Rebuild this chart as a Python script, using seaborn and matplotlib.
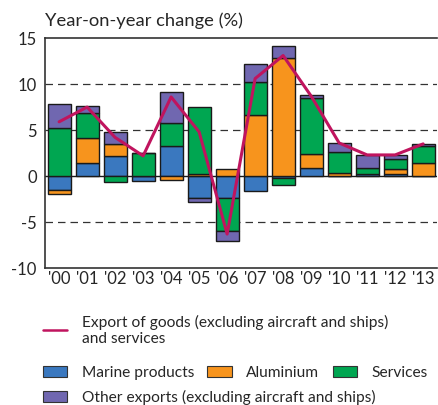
import numpy as np
import matplotlib
matplotlib.use("Agg")
import matplotlib.pyplot as plt
from matplotlib.lines import Line2D
from matplotlib.patches import Patch
import seaborn as sns

years = ["'00", "'01", "'02", "'03", "'04", "'05", "'06",
         "'07", "'08", "'09", "'10", "'11", "'12", "'13"]
marine = [-1.5, 1.4, 2.2, -0.5, 3.3, -2.35, -2.35, -1.6, -0.2, 0.9, 0.0, 0.2, 0.2, 0.0]
aluminium = [-0.4, 2.7, 1.3, 0.0, -0.4, 0.2, 0.8, 6.6, 12.85, 1.5, 0.3, 0.0, 0.6, 1.45]
services = [5.2, 2.75, -0.6, 2.5, 2.5, 7.3, -3.65, 3.6, -0.75, 6.1, 2.3, 0.7, 1.1, 1.85]
other = [2.6, 0.75, 1.3, 0.0, 3.3, -0.45, -1.0, 2.0, 1.25, 0.3, 1.0, 1.4, 0.35, 0.2]
total = [5.9, 7.5, 4.2, 2.2, 8.6, 4.8, -6.3, 10.6, 13.1, 8.7, 3.6, 2.3, 2.3, 3.5]

series = [("Marine products", marine, "#3a78bf"),
          ("Aluminium", aluminium, "#f7941d"),
          ("Services", services, "#00a651"),
          ("Other exports (excluding aircraft and ships)", other, "#7067b0")]
line_color = "#c0145e"

sns.set_style("white")
plt.rcParams['font.family'] = ['Lato', 'DejaVu Sans']

fig = plt.figure(figsize=(4.38, 4.05), dpi=100)
ax = fig.add_axes([0.103, 0.338, 0.895, 0.568])

x = np.arange(len(years))
pos_base = np.zeros(len(years))
neg_base = np.zeros(len(years))
for name, vals, col in series:
    v = np.array(vals)
    bottom = np.where(v >= 0, pos_base, neg_base)
    ax.bar(x, v, width=0.82, bottom=bottom, color=col, edgecolor="#1a1a1a",
           linewidth=1.0, zorder=2)
    pos_base = pos_base + np.where(v > 0, v, 0)
    neg_base = neg_base + np.where(v < 0, v, 0)

sns.lineplot(x=x, y=total, color=line_color, linewidth=2.2, ax=ax, zorder=3)

ax.axhline(0, color="#1a1a1a", linewidth=1.0, zorder=1)
for yv in [10, 5, -5]:
    ax.axhline(yv, color="#333333", linewidth=0.9, dashes=(6, 4), zorder=1)

ax.set_xlim(-0.5, 13.5)
ax.set_ylim(-10, 15)
ax.set_yticks([-10, -5, 0, 5, 10, 15])
ax.set_yticklabels(["-10", "-5", "0", "5", "10", "15"])
ax.set_xticks(x)
ax.set_xticklabels(years)
ax.set_xticks(np.arange(-0.5, 14, 1), minor=True)
ax.tick_params(axis="x", which="major", length=0, labelsize=12, pad=2)
ax.tick_params(axis="x", which="minor", length=6, direction="in", width=1.0, color="#333333")
ax.tick_params(axis="y", length=0, labelsize=12, pad=6)
for s in ["left", "bottom", "top"]:
    ax.spines[s].set_color("#333333")
    ax.spines[s].set_linewidth(1.2)
ax.spines["right"].set_visible(False)

fig.text(0.103, 0.95, "Year-on-year change (%)", fontsize=13.2, ha="left", va="center")

lk = dict(frameon=False, fontsize=11.2, handlelength=1.55, handletextpad=0.95,
          loc="center left", borderaxespad=0, borderpad=0)
h_line = [Line2D([0], [0], color=line_color, linewidth=1.8)]
fig.legend(h_line, ["Export of goods (excluding aircraft and ships)\nand services"],
           bbox_to_anchor=(0.098, 0.185), **lk)
h_patch = [Patch(facecolor=c, edgecolor="#333333", linewidth=0.8) for _, _, c in series]
fig.legend(h_patch[:3], [s[0] for s in series[:3]], ncol=3,
           bbox_to_anchor=(0.098, 0.08), handleheight=0.7, columnspacing=0.85, **lk)
fig.legend(h_patch[3:], [series[3][0]],
           bbox_to_anchor=(0.098, 0.018), handleheight=0.7, **lk)

fig.savefig("out.png", dpi=100)
